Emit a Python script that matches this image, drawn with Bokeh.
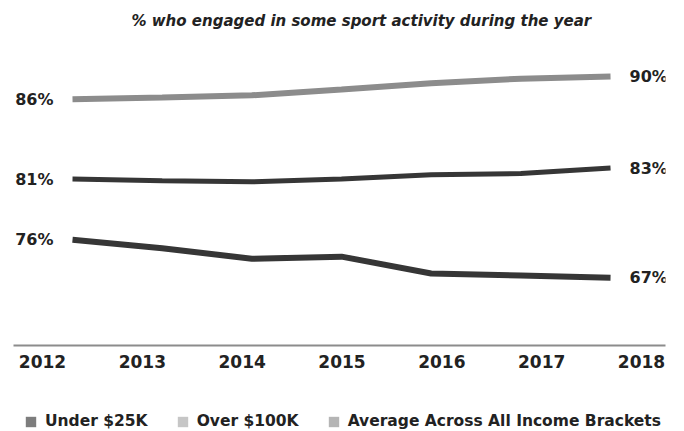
import numpy as np
from bokeh.plotting import figure
from bokeh.layouts import column
from bokeh.models import Range1d, LinearAxis, FixedTicker, Legend, LegendItem, ColumnDataSource
from bokeh.embed import file_html
from bokeh.resources import INLINE
from bokeh.core.properties import value

# ---- data ----
years = [2012, 2013, 2014, 2015, 2016, 2017, 2018]
year_labels = ["2012", "2013", "2014", "2015", "2016", "2017", "2018"]
over_100k = [86, 86.3, 86.7, 87.7, 88.8, 89.6, 90]
average_all = [81, 80.7, 80.5, 81, 81.8, 82, 83]
under_25k = [76, 74, 71.5, 72, 68, 67.5, 67]
series_names = ["Under $25K", "Over $100K", "Average Across All Income Brackets"]
title_text = "% who engaged in some sport activity during the year"

# ---- styles ----
FONT = "DejaVu Sans"
TXT = "#222222"
line_colors = {"over": "#8c8c8c", "avg": "#363636", "under": "#363636"}
legend_colors = ["#7d7d7d", "#c6c6c6", "#b5b5b5"]

p = figure(width=684, height=390, output_backend="svg", toolbar_location=None,
           x_range=Range1d(2011.342, 2018.613), y_range=Range1d(43.04, 96.435),
           x_axis_type=None, y_axis_type=None,
           min_border_left=13, min_border_right=19, min_border_top=38, min_border_bottom=45,
           outline_line_color=None, background_fill_color="white", border_fill_color="white")

p.extra_x_ranges = {"yr": Range1d(2011.7095, 2018.2404)}
p.extra_y_ranges = {"mid": Range1d(50.64, 106.455), "bot": Range1d(50.89, 123.6)}

# title
p.title.text = title_text
p.title.text_font = FONT
p.title.text_font_style = "bold italic"
p.title.text_font_size = "15px"
p.title.text_color = TXT
p.title.align = "left"
p.title.offset = 118
p.title.standoff = 19

# x axis
xa = LinearAxis(x_range_name="yr", ticker=FixedTicker(ticks=years),
                major_label_overrides={y: l for y, l in zip(years, year_labels)})
xa.major_tick_line_color = None
xa.minor_tick_line_color = None
xa.axis_line_color = "#8c8c8c"
xa.axis_line_width = 2
xa.major_label_text_font = FONT
xa.major_label_text_font_style = "bold"
xa.major_label_text_font_size = "17px"
xa.major_label_text_color = TXT
xa.major_label_standoff = 3
p.add_layout(xa, "below")

# lines
p.line(years, over_100k, line_width=6, line_color=line_colors["over"])
p.line(years, average_all, line_width=5, line_color=line_colors["avg"], y_range_name="mid")
p.line(years, under_25k, line_width=6, line_color=line_colors["under"], y_range_name="bot")

# end labels
def end_labels(vals, rname):
    kw = {} if rname is None else {"y_range_name": rname}
    left = ColumnDataSource(dict(x=[years[0]], y=[vals[0]], t=[f"{round(vals[0])}%"]))
    right = ColumnDataSource(dict(x=[years[-1]], y=[vals[-1]], t=[f"{round(vals[-1])}%"]))
    for src, align, off in ((left, "right", -19), (right, "left", 19)):
        p.text(x="x", y="y", text="t", source=src, text_align=align, text_baseline="middle",
               x_offset=off, text_font=value(FONT), text_font_style="bold",
               text_font_size="16px", text_color=TXT, **kw)

end_labels(over_100k, None)
end_labels(average_all, "mid")
end_labels(under_25k, "bot")

# legend strip (separate small figure below the chart)
lg = figure(width=684, height=41, output_backend="svg", toolbar_location=None,
            x_range=Range1d(0, 1), y_range=Range1d(0, 1), x_axis_type=None, y_axis_type=None,
            min_border=0, outline_line_color=None,
            background_fill_color="white", border_fill_color="white")
items = []
for name, col in zip(series_names, legend_colors):
    src = ColumnDataSource(dict(l=np.array([np.nan]), r=np.array([np.nan]),
                                t=np.array([np.nan]), b=np.array([np.nan])))
    r = lg.quad(left="l", right="r", top="t", bottom="b", source=src,
                fill_color=col, line_color=None)
    items.append(LegendItem(label=name, renderers=[r]))
legend = Legend(items=items, orientation="horizontal", location=(11, 1),
                glyph_width=13, glyph_height=13, label_standoff=8, spacing=28,
                padding=0, margin=0, border_line_color=None, background_fill_alpha=0,
                label_text_font=FONT, label_text_font_style="bold",
                label_text_font_size="15.5px", label_text_color=TXT)
lg.add_layout(legend)

layout = column(p, lg, spacing=0)
open("out.html", "w").write(file_html(layout, INLINE))
